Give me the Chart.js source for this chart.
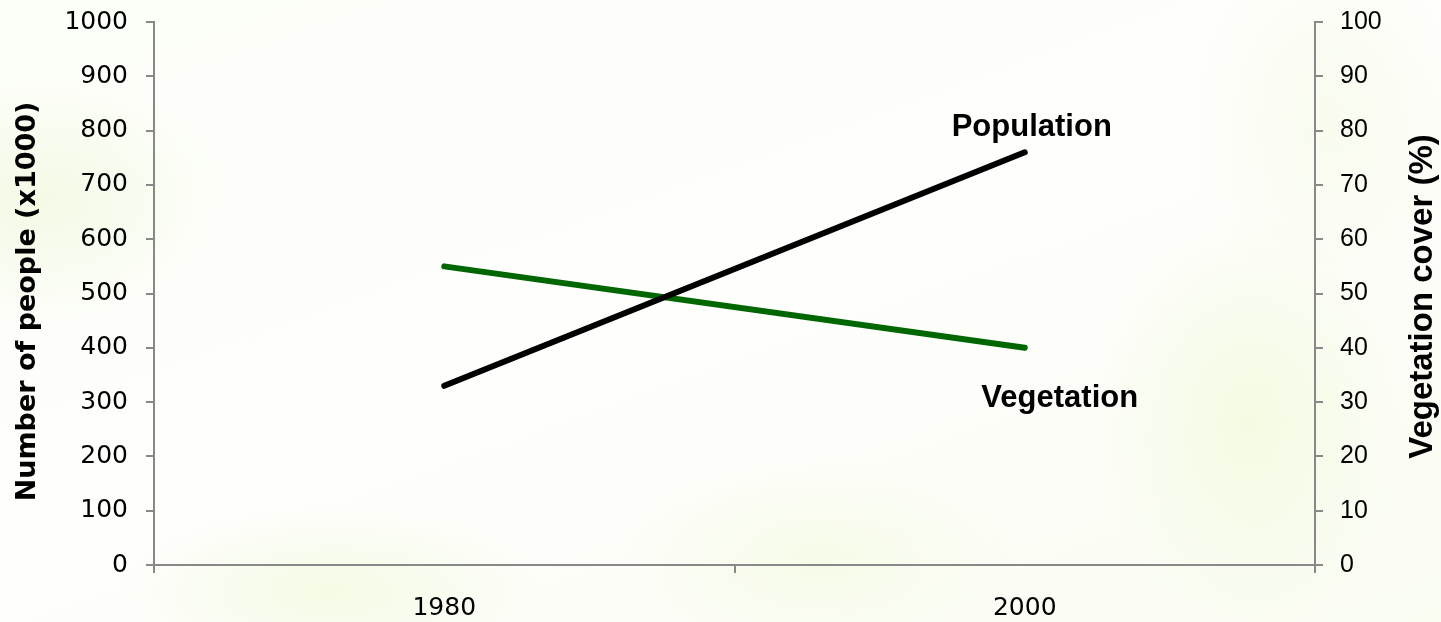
<!DOCTYPE html>
<html>
<head>
<meta charset="utf-8">
<script src="https://cdn.jsdelivr.net/npm/chart.js@4"></script>
<style>
    html, body { margin: 0; padding: 0; }
    body {
        width: 1441px;
        height: 622px;
        overflow: hidden;
        background:
            radial-gradient(ellipse 260px 180px at 40px 200px, rgba(238, 248, 220, 0.7), rgba(255, 255, 255, 0) 70%),
            radial-gradient(ellipse 300px 120px at 330px 590px, rgba(240, 250, 220, 0.7), rgba(255, 255, 255, 0) 70%),
            radial-gradient(ellipse 220px 300px at 1250px 420px, rgba(240, 250, 218, 0.7), rgba(255, 255, 255, 0) 70%),
            radial-gradient(ellipse 200px 260px at 1330px 120px, rgba(244, 250, 228, 0.6), rgba(255, 255, 255, 0) 70%),
            radial-gradient(ellipse 280px 140px at 820px 560px, rgba(244, 251, 226, 0.7), rgba(255, 255, 255, 0) 70%),
            linear-gradient(160deg, #fcfef8 0%, #fefefc 50%, #f9fcf1 100%);
    }
    #wrap { position: absolute; left: 0; top: 0; width: 1441px; height: 622px; }
</style>
</head>
<body>
<div id="wrap"><canvas id="chart" width="1441" height="622"></canvas></div>
<script>
// ============================================
// Population vs vegetation cover
// ============================================

const years = ['1980', '2000'];
const population = [330, 760];   // x1000 people, left axis
const vegetation = [55, 40];     // % cover, right axis

const axisGray = '#888888';
const tickFont = { family: 'DejaVu Sans', size: 25 };

// axis titles (read bottom to top on both sides) and line labels
const textPlugin = {
    id: 'textPlugin',
    afterDraw(chart) {
        const ctx = chart.ctx;
        const area = chart.chartArea;
        const x = chart.scales.x;
        const yL = chart.scales.yLeft;
        const yR = chart.scales.yRight;
        const midY = (area.top + area.bottom) / 2;

        ctx.save();
        ctx.fillStyle = '#000';
        ctx.textAlign = 'center';
        ctx.textBaseline = 'middle';

        ctx.save();
        ctx.translate(28, midY + 8);
        ctx.rotate(-Math.PI / 2);
        ctx.font = 'bold 27px "DejaVu Sans"';
        ctx.fillText('Number of people (x1000)', 0, 0);
        ctx.restore();

        ctx.save();
        ctx.translate(1423, midY + 3);
        ctx.rotate(-Math.PI / 2);
        ctx.font = 'bold 33px "Liberation Sans"';
        ctx.fillText('Vegetation cover (%)', 0, 0);
        ctx.restore();

        ctx.font = 'bold 31px "Liberation Sans"';
        ctx.textBaseline = 'alphabetic';
        const last = years.length - 1;
        ctx.fillText('Population', x.getPixelForValue(last) + 7, yL.getPixelForValue(population[last]) - 16);
        ctx.fillText('Vegetation', x.getPixelForValue(last) + 35, yR.getPixelForValue(vegetation[last]) + 59);
        ctx.restore();
    }
};

function fixVertical(width) {
    return function (scale) {
        scale.width = width;
        scale.paddingTop = 0;
        scale.paddingBottom = 0;
    };
}

new Chart(document.getElementById('chart').getContext('2d'), {
    type: 'line',
    data: {
        labels: years,
        datasets: [{
            label: 'Population',
            data: population,
            yAxisID: 'yLeft',
            borderColor: '#000000',
            borderWidth: 6,
            borderCapStyle: 'round',
            pointRadius: 0,
            tension: 0
        }, {
            label: 'Vegetation',
            data: vegetation,
            yAxisID: 'yRight',
            borderColor: '#006600',
            borderWidth: 6,
            borderCapStyle: 'round',
            pointRadius: 0,
            tension: 0
        }]
    },
    options: {
        responsive: false,
        animation: false,
        events: [],
        layout: { padding: { top: 22, bottom: 0, left: 0, right: 0 } },
        plugins: {
            legend: { display: false },
            tooltip: { enabled: false }
        },
        scales: {
            x: {
                offset: true,
                grid: { offset: true, drawOnChartArea: false, drawTicks: true, tickLength: 8, color: axisGray, lineWidth: 2 },
                border: { color: axisGray, width: 2 },
                ticks: { color: '#000', font: tickFont, padding: 20 },
                afterFit(scale) { scale.height = 57; }
            },
            yLeft: {
                position: 'left',
                min: 0,
                max: 1000,
                ticks: { stepSize: 100, color: '#000', font: tickFont, padding: 18, callback: v => String(v) },
                grid: { drawOnChartArea: false, tickLength: 8, color: axisGray, lineWidth: 2 },
                border: { color: axisGray, width: 2 },
                afterFit: fixVertical(154)
            },
            yRight: {
                position: 'right',
                min: 0,
                max: 100,
                ticks: { stepSize: 10, color: '#000', font: { family: 'Liberation Sans', size: 25 }, padding: 17 },
                grid: { drawOnChartArea: false, tickLength: 8, color: axisGray, lineWidth: 2 },
                border: { color: axisGray, width: 2 },
                afterFit: fixVertical(126)
            }
        }
    },
    plugins: [textPlugin]
});
</script>
</body>
</html>
